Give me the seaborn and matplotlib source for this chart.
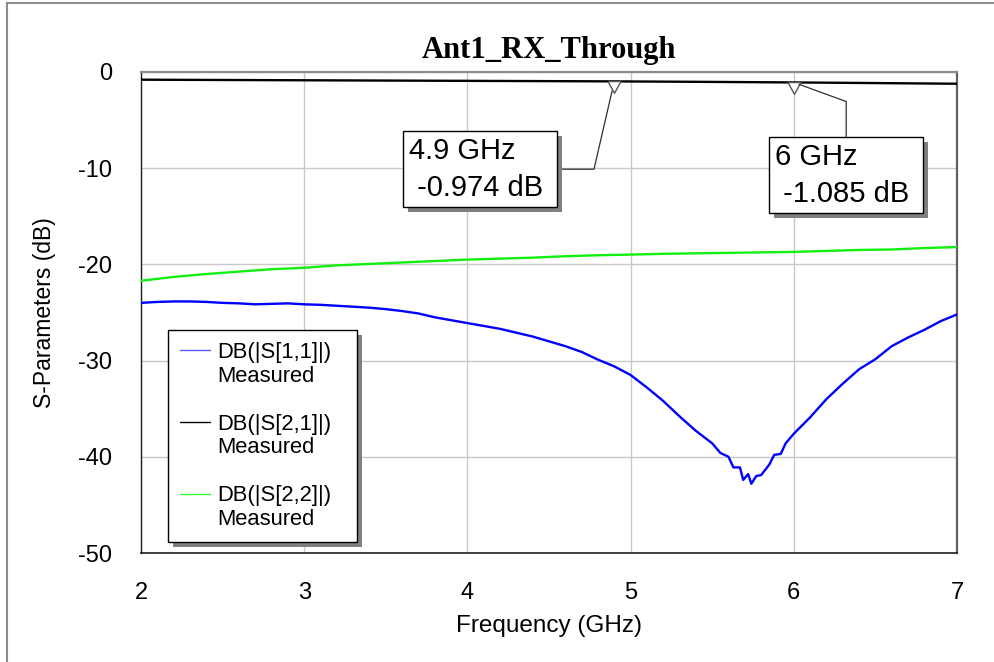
import matplotlib
matplotlib.use("Agg")
import matplotlib.pyplot as plt
import matplotlib.patheffects as pe
from matplotlib.lines import Line2D
import pandas as pd
import seaborn as sns

# ---- measured traces (frequency in GHz, magnitude in dB) ----
s11_freq = [2.0, 2.1, 2.2, 2.3, 2.4, 2.5, 2.6, 2.7, 2.8, 2.9,
            3.0, 3.1, 3.2, 3.3, 3.4, 3.5, 3.6, 3.7, 3.8, 3.9,
            4.0, 4.1, 4.2, 4.3, 4.4, 4.5, 4.6, 4.7, 4.8, 4.9,
            5.0, 5.1, 5.2, 5.3, 5.4, 5.5, 5.55, 5.6, 5.63, 5.67,
            5.69, 5.72, 5.74, 5.77, 5.80, 5.85, 5.88, 5.92, 5.95, 6.0,
            6.1, 6.2, 6.3, 6.4, 6.5, 6.6, 6.7, 6.8, 6.9, 7.0]
s11_db = [-24.0, -23.9, -23.85, -23.85, -23.9, -24.0, -24.05, -24.15, -24.1, -24.05,
          -24.15, -24.2, -24.3, -24.4, -24.5, -24.65, -24.85, -25.1, -25.5, -25.8,
          -26.1, -26.4, -26.7, -27.1, -27.5, -28.0, -28.5, -29.1, -29.9, -30.6,
          -31.5, -32.8, -34.2, -35.8, -37.3, -38.6, -39.6, -40.0, -41.1, -41.1,
          -42.4, -41.8, -42.8, -42.0, -41.9, -40.8, -39.8, -39.7, -38.6, -37.6,
          -35.9, -34.0, -32.4, -30.9, -29.85, -28.5, -27.6, -26.8, -25.9, -25.2]

s21_freq = [2.0, 2.5, 3.0, 3.5, 4.0, 4.5, 4.9, 5.5, 6.0, 6.5, 7.0]
s21_db = [-0.80, -0.83, -0.86, -0.89, -0.92, -0.95, -0.974, -1.03, -1.085, -1.15, -1.22]

s22_freq = [2.0, 2.2, 2.4, 2.6, 2.8, 3.0, 3.2, 3.4, 3.6, 3.8, 4.0, 4.2, 4.4,
            4.6, 4.8, 5.0, 5.2, 5.4, 5.6, 5.8, 6.0, 6.2, 6.4, 6.6, 6.8, 7.0]
s22_db = [-21.7, -21.3, -21.0, -20.75, -20.5, -20.35, -20.1, -19.95, -19.8, -19.65,
          -19.5, -19.4, -19.3, -19.15, -19.05, -18.98, -18.9, -18.85, -18.8, -18.75,
          -18.7, -18.6, -18.5, -18.45, -18.3, -18.2]

trace_names = ["DB(|S[1,1]|)", "DB(|S[2,1]|)", "DB(|S[2,2]|)"]
trace_colors = ["#0000ff", "#000000", "#10f010"]
legend_colors = ["#5a5aff", "#000000", "#33ff33"]

# markers on the S21 trace
marker_freq = [4.9, 6.0]
marker_db = [-0.974, -1.085]

x_ticks = [2, 3, 4, 5, 6, 7]
y_ticks = [0, -10, -20, -30, -40, -50]

df = pd.concat([
    pd.DataFrame({"freq": s11_freq, "db": s11_db, "trace": trace_names[0]}),
    pd.DataFrame({"freq": s21_freq, "db": s21_db, "trace": trace_names[1]}),
    pd.DataFrame({"freq": s22_freq, "db": s22_db, "trace": trace_names[2]}),
], ignore_index=True)

sns.set_theme(style="white")
plt.rcParams["font.family"] = ["Liberation Sans", "DejaVu Sans"]
plt.rcParams["axes.unicode_minus"] = False

W, H = 994, 662
fig = plt.figure(figsize=(W / 100, H / 100), dpi=100)
fig.patch.set_facecolor("white")
ax_l, ax_r, ax_t, ax_b = 141, 957, 72, 553
ax = fig.add_axes([ax_l / W, 1 - ax_b / H, (ax_r - ax_l) / W, (ax_b - ax_t) / H])

sns.lineplot(data=df, x="freq", y="db", hue="trace", hue_order=trace_names,
             palette=trace_colors, estimator=None, sort=False, legend=False,
             linewidth=1.7, ax=ax, zorder=3)

ax.set_xlim(2, 7)
ax.set_ylim(-50, 0)
ax.set_xticks(x_ticks)
ax.set_yticks(y_ticks)
ax.set_xticklabels([str(v) for v in x_ticks])
ax.set_yticklabels([str(v) for v in y_ticks])
ax.grid(True, color="#c8c8c8", linewidth=1.0, zorder=0)
ax.set_axisbelow(True)
ax.tick_params(length=0, pad=21, labelsize=17, labelcolor="black")
ax.set_xlabel("Frequency (GHz)", fontsize=17.5, color="black", labelpad=8)
ax.set_ylabel("S-Parameters (dB)", fontsize=16.5, color="black", labelpad=16)
ax.set_title("Ant1_RX_Through", fontsize=22, fontweight="bold",
             family=["Liberation Serif", "DejaVu Serif"], color="black", pad=10)

for side, col, lw in [("left", "#202020", 1.0), ("bottom", "#202020", 1.2),
                      ("top", "#8c8c8c", 1.6), ("right", "#606060", 1.6)]:
    ax.spines[side].set_visible(True)
    ax.spines[side].set_color(col)
    ax.spines[side].set_linewidth(lw)

# marker triangles hanging below the trace
tri = [(-0.55, 0), (0.55, 0), (0, -1), (-0.55, 0)]
ax.plot(marker_freq, marker_db, linestyle="none", marker=tri, markersize=17,
        markerfacecolor="white", markeredgecolor="#555555", markeredgewidth=1.0,
        zorder=5)

shadow = [pe.SimplePatchShadow(offset=(3.6, -3.6), shadow_rgbFace="#808080", alpha=1.0),
          pe.Normal()]

# marker readouts
box_specs = [
    dict(xytext=(0.3282, 0.8653), relpos=(1.0, 0.5),
         conn="angle,angleA=0,angleB=77,rad=0", shrinkB=7),
    dict(xytext=(0.777, 0.8528), relpos=(0.5, 1.0),
         conn="angle,angleA=90,angleB=160,rad=0", shrinkB=4),
]
for f, v, spec in zip(marker_freq, marker_db, box_specs):
    ann = ax.annotate(f"{f:g} GHz\n {v:.3f} dB ", xy=(f, v), xycoords="data",
                      xytext=spec["xytext"], textcoords="axes fraction",
                      ha="left", va="top", fontsize=21, color="black",
                      linespacing=1.4, zorder=6,
                      bbox=dict(boxstyle="square,pad=0.2", facecolor="white",
                                edgecolor="black", linewidth=1.0),
                      arrowprops=dict(arrowstyle="-", color="#303030", lw=0.9,
                                      relpos=spec["relpos"],
                                      connectionstyle=spec["conn"],
                                      shrinkA=0, shrinkB=spec["shrinkB"]))
    ann.get_bbox_patch().set_path_effects(shadow)

# legend: trace name row, "Measured" row, spacer row
handles, labels = [], []
blank = Line2D([], [], color="none")
for i, (name, col) in enumerate(zip(trace_names, legend_colors)):
    handles += [Line2D([], [], color=col, linewidth=1.0), blank]
    labels += [name, "Measured"]
    if i < len(trace_names) - 1:
        handles.append(blank)
        labels.append(" ")

leg_x0 = (168 - ax_l) / (ax_r - ax_l)
leg_y1 = (ax_b - 330) / (ax_b - ax_t)
leg_w = (357 - 168) / (ax_r - ax_l)
leg = ax.legend(handles, labels, loc="upper left",
                bbox_to_anchor=(leg_x0, leg_y1 - 0.5, leg_w, 0.5),
                mode="expand", borderaxespad=0, fontsize=15.8, frameon=True,
                fancybox=False, framealpha=1.0, edgecolor="black",
                facecolor="white", handlelength=1.35, handletextpad=0.35,
                borderpad=0.55, labelspacing=0.13)
leg.get_frame().set_linewidth(1.0)
leg.get_frame().set_path_effects(shadow)
leg.set_zorder(7)
for t in leg.get_texts():
    t.set_color("black")

# window border
fig.add_artist(Line2D([7 / W, 7 / W], [0, 1 - 3 / H], transform=fig.transFigure,
                      color="#8c8c8c", linewidth=1.5))
fig.add_artist(Line2D([7 / W, 1], [1 - 3 / H, 1 - 3 / H], transform=fig.transFigure,
                      color="#8c8c8c", linewidth=1.5))

fig.savefig("out.png", dpi=100, facecolor="white")
